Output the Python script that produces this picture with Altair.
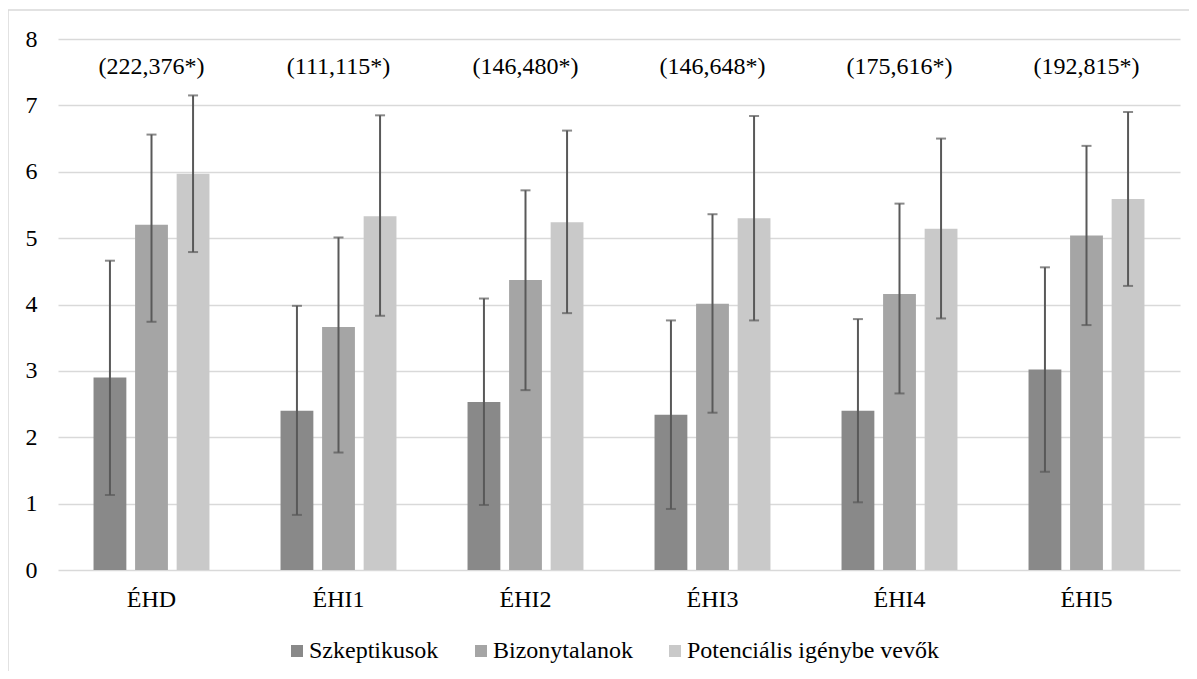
import altair as alt
import pandas as pd

categories = ["ÉHD", "ÉHI1", "ÉHI2", "ÉHI3", "ÉHI4", "ÉHI5"]
series = ["Szkeptikusok", "Bizonytalanok", "Potenciális igénybe vevők"]
colors = ["#898989", "#a5a5a5", "#c9c9c9"]

szkeptikusok = [2.90, 2.40, 2.53, 2.34, 2.40, 3.02]
szk_low = [1.13, 0.83, 0.98, 0.92, 1.02, 1.48]
szk_high = [4.66, 3.98, 4.09, 3.76, 3.78, 4.56]

bizonytalanok = [5.20, 3.66, 4.37, 4.01, 4.16, 5.04]
biz_low = [3.74, 1.77, 2.71, 2.37, 2.66, 3.69]
biz_high = [6.56, 5.01, 5.72, 5.36, 5.52, 6.39]

potencialis = [5.97, 5.33, 5.24, 5.30, 5.14, 5.59]
pot_low = [4.79, 3.83, 3.87, 3.76, 3.79, 4.28]
pot_high = [7.15, 6.85, 6.62, 6.84, 6.50, 6.90]

annotations = ["(222,376*)", "(111,115*)", "(146,480*)", "(146,648*)", "(175,616*)", "(192,815*)"]
annotation_y = 7.58

rows = []
for s, vals, lo, hi in [
    (series[0], szkeptikusok, szk_low, szk_high),
    (series[1], bizonytalanok, biz_low, biz_high),
    (series[2], potencialis, pot_low, pot_high),
]:
    for c, v, l, h in zip(categories, vals, lo, hi):
        rows.append({"cat": c, "series": s, "value": v, "low": l, "high": h})
df = pd.DataFrame(rows)
ann = pd.DataFrame({"cat": categories, "label": annotations, "y": [annotation_y] * len(categories)})

FONT = "Liberation Serif"
FS = 24

xenc = alt.X("cat:N", sort=categories, title=None,
             scale=alt.Scale(paddingInner=0.38, paddingOuter=0.19),
             axis=alt.Axis(labelAngle=0, labelFontSize=FS, labelFont=FONT, labelColor="#000000",
                           ticks=False, domain=False, labelPadding=17, grid=False))
xoff = alt.XOffset("series:N", sort=series, scale=alt.Scale(domain=series, paddingInner=0.21, paddingOuter=0))
yscale = alt.Scale(domain=[0, 8], nice=False)

frame = alt.Chart(pd.DataFrame({"a": [0]})).mark_rect(filled=False, stroke="#d9d9d9", strokeWidth=1.5).encode(
    x=alt.value(-50), x2=alt.value(1200), y=alt.value(-29), y2=alt.value(700)
)

bars = alt.Chart(df).mark_bar().encode(
    x=xenc,
    xOffset=xoff,
    y=alt.Y("value:Q", scale=yscale, title=None,
            axis=alt.Axis(values=list(range(0, 9)), format="d", labelFontSize=FS, labelFont=FONT,
                          labelColor="#000000", ticks=False, domain=False, labelPadding=21,
                          gridColor="#d9d9d9", gridWidth=1.5)),
    color=alt.Color("series:N", sort=series, scale=alt.Scale(domain=series, range=colors),
                    legend=alt.Legend(title=None, orient="none", direction="horizontal",
                                      legendX=227, legendY=600, symbolType="square", symbolSize=144,
                                      symbolStrokeWidth=0, labelFontSize=FS, labelFont=FONT,
                                      labelColor="#000000", columnPadding=30, labelOffset=0,
                                      labelLimit=0)),
)

rules = alt.Chart(df).mark_rule(color="#595959", strokeWidth=2).encode(
    x=alt.X("cat:N", sort=categories), xOffset=xoff,
    y=alt.Y("low:Q", scale=yscale), y2="high:Q",
)
cap_lo = alt.Chart(df).mark_tick(color="#595959", thickness=2, size=10, orient="horizontal").encode(
    x=alt.X("cat:N", sort=categories), xOffset=xoff, y=alt.Y("low:Q", scale=yscale),
)
cap_hi = alt.Chart(df).mark_tick(color="#595959", thickness=2, size=10, orient="horizontal").encode(
    x=alt.X("cat:N", sort=categories), xOffset=xoff, y=alt.Y("high:Q", scale=yscale),
)
texts = alt.Chart(ann).mark_text(fontSize=FS, font=FONT, color="#000000").encode(
    x=alt.X("cat:N", sort=categories), y=alt.Y("y:Q", scale=yscale), text="label:N",
)

chart = alt.layer(frame, bars, rules, cap_lo, cap_hi, texts).properties(
    width=1122, height=531,
    background="#ffffff",
    autosize=alt.AutoSizeParams(type="none"),
    padding={"left": 50, "top": 31, "right": 9, "bottom": 101},
).configure_view(stroke=None)

chart.save("out.html", embed_options={"renderer": "svg", "actions": False})
